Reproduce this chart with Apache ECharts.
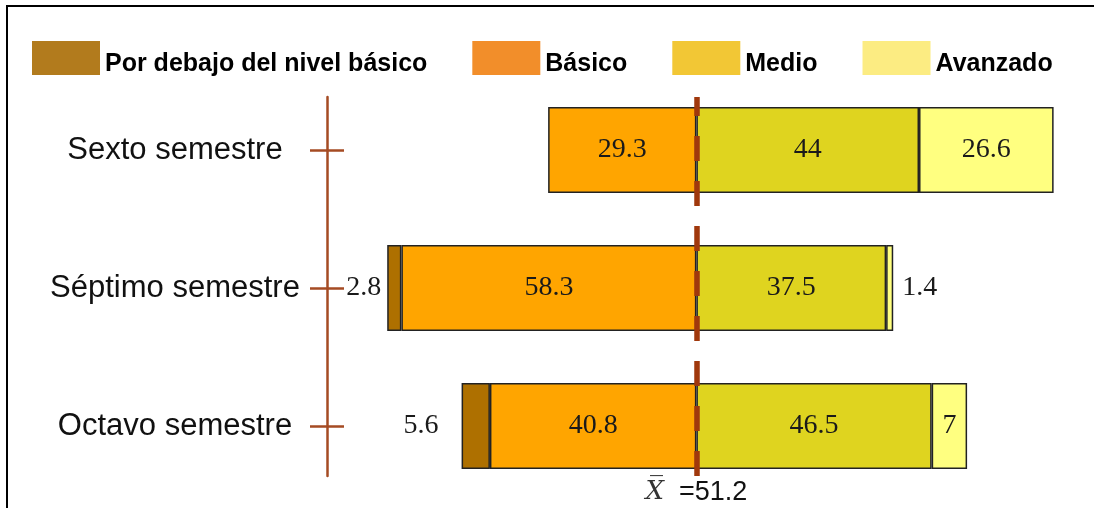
<!DOCTYPE html>
<html>
<head>
<meta charset="utf-8">
<script src="https://cdn.jsdelivr.net/npm/echarts@6/dist/echarts.min.js"></script>
<style>
  html, body { margin: 0; padding: 0; background: #fff; }
  #wrap { position: relative; width: 1094px; height: 508px; overflow: hidden; }
  #chart { position: absolute; left: 0; top: 0; width: 1094px; height: 508px; }
  #frame { position: absolute; left: 6px; top: 5px; width: 1200px; height: 700px;
           border-left: 2px solid #000; border-top: 2px solid #000; pointer-events: none; }
</style>
</head>
<body>
<div id="wrap"><div id="chart"></div><div id="frame"></div></div>
<script>
// ---- data ----
const categories = ['Sexto semestre', 'Séptimo semestre', 'Octavo semestre'];
const levelNames = ['Por debajo del nivel básico', 'Básico', 'Medio', 'Avanzado'];
const belowBasic = [0, 2.8, 5.6];
const basic = [29.3, 58.3, 40.8];
const medium = [44, 37.5, 46.5];
const advanced = [26.6, 1.4, 7];
const meanValue = 51.2;

// ---- styles ----
const barColors = ['#AE7000', '#FFA500', '#DFD41F', '#FFFF80'];
const legendColors = ['#B27B1D', '#F28E2A', '#F2C735', '#FCEC82'];
const axisColor = '#A54B23';
const GRID_LEFT = 327, GRID_RIGHT = 8;

const labelOverrides = [
  {1: {position: 'left', distance: 6}, 2: {position: 'left', distance: 23}},
  {},
  {},
  {1: {position: 'right', distance: 9}}
];

function makeData(values, sign, idx) {
  return values.map((v, i) => {
    const item = {value: v === 0 ? null : sign * v};
    if (labelOverrides[idx][i]) item.label = labelOverrides[idx][i];
    return item;
  });
}

const valueLabel = {
  show: true,
  position: 'inside',
  fontFamily: 'Liberation Serif',
  fontSize: 28,
  color: '#1a1a1a',
  formatter: p => (p.value == null ? '' : String(Math.abs(p.value)))
};

const seriesValues = [belowBasic, basic, medium, advanced];
const signs = [-1, -1, 1, 1];
const order = [1, 0, 2, 3]; // stacking order: Básico first on negative side

const barSeries = order.map(idx => ({
  name: levelNames[idx],
  type: 'bar',
  stack: 'total',
  xAxisIndex: 0,
  yAxisIndex: 0,
  barWidth: 86,
  itemStyle: {color: barColors[idx], borderColor: '#222', borderWidth: 1.5},
  label: valueLabel,
  emphasis: {disabled: true},
  data: makeData(seriesValues[idx], signs[idx], idx)
}));

const legendFont = {fontFamily: 'Liberation Sans', fontWeight: 'bold', fontSize: 25, color: '#000'};

const chart = echarts.init(document.getElementById('chart'), null, {renderer: 'canvas'});
const option = {
  animation: false,
  backgroundColor: '#fff',
  legend: {
    left: 32,
    top: 41,
    padding: 0,
    itemWidth: 68,
    itemHeight: 34,
    itemGap: 45,
    icon: 'rect',
    selectedMode: false,
    formatter: n => '{t|' + n + '}',
    textStyle: Object.assign({}, legendFont, {
      rich: {t: Object.assign({}, legendFont, {padding: [12, 0, 0, 0]})}
    }),
    data: levelNames.map((n, i) => ({name: n, itemStyle: {color: legendColors[i], borderWidth: 0}}))
  },
  grid: [
    {left: GRID_LEFT, right: GRID_RIGHT, top: 81, bottom: 13},
    {left: GRID_LEFT, right: GRID_RIGHT, top: 97, bottom: 32}
  ],
  xAxis: [
    {type: 'value', gridIndex: 0, min: -73, max: 77, show: false},
    {type: 'value', gridIndex: 1, min: -73, max: 77, show: false}
  ],
  yAxis: [
    {
      type: 'category', gridIndex: 0, inverse: true, data: categories,
      axisLine: {show: false, onZero: false},
      axisTick: {show: true, alignWithLabel: true, length: 17, lineStyle: {color: axisColor, width: 2.5}},
      axisLabel: {fontFamily: 'Liberation Sans', fontSize: 31, color: '#111', align: 'center', margin: 152}
    },
    {
      type: 'category', gridIndex: 0, inverse: true, data: categories, position: 'left', offset: 0,
      axisLine: {show: false, onZero: false},
      axisTick: {show: true, inside: true, alignWithLabel: true, length: 17, lineStyle: {color: axisColor, width: 2.5}},
      axisLabel: {show: false}
    },
    {
      type: 'category', gridIndex: 1, data: categories, position: 'left',
      axisLine: {show: true, onZero: false, lineStyle: {color: axisColor, width: 2.5}},
      axisTick: {show: false},
      axisLabel: {show: false}
    }
  ],
  series: barSeries.concat([{
    name: 'mean',
    type: 'line',
    xAxisIndex: 1,
    yAxisIndex: 2,
    data: [],
    z: 10,
    markLine: {
      silent: true,
      symbol: 'none',
      animation: false,
      lineStyle: {color: '#A0380C', width: 5.5, type: [25, 20]},
      label: {
        show: true,
        position: 'start',
        distance: 3,
        formatter: () => '{x|X\u0305}{v|  =' + meanValue + '}',
        rich: {
          x: {fontFamily: 'DejaVu Serif', fontStyle: 'italic', fontSize: 26, color: '#333'},
          v: {fontFamily: 'Liberation Sans', fontSize: 27, color: '#111'}
        }
      },
      data: [{xAxis: 0}]
    }
  }])
};
chart.setOption(option);
</script>
</body>
</html>
